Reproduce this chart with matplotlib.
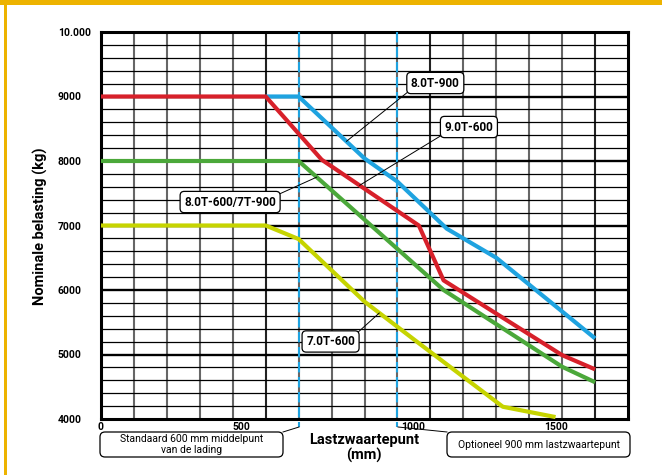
import numpy as np
import matplotlib
matplotlib.use("Agg")
import matplotlib.pyplot as plt
from matplotlib.patches import Rectangle, FancyBboxPatch
from matplotlib.lines import Line2D
from matplotlib.transforms import Affine2D, blended_transform_factory

plt.rcParams['font.family'] = ['Roboto', 'DejaVu Sans']

# ---- data ----
red_x = [0, 500, 670, 965, 1040, 1400, 1500]          # 9.0T-600
red_y = [9000, 9000, 8020, 7000, 6150, 4990, 4770]
blue_x = [500, 600, 800, 900, 1050, 1200, 1500]       # 8.0T-900
blue_y = [9000, 9000, 8040, 7680, 6950, 6500, 5250]
green_x = [0, 600, 1040, 1400, 1500]                   # 8.0T-600/7T-900
green_y = [8000, 8000, 6000, 4810, 4570]
yellow_x = [0, 500, 600, 800, 965, 1220, 1380]        # 7.0T-600
yellow_y = [7000, 7000, 6790, 5820, 5175, 4190, 4030]

ytick_vals = [4000, 5000, 6000, 7000, 8000, 9000, 10000]
ytick_labels = ["4000", "5000", "6000", "7000", "8000", "9000", "10.000"]
xtick_pos = [0, 426, 948, 1382]
xtick_labels = ["0", "500", "1000", "1500"]
ref_lines = [600, 900]

RED = '#D7202A'
BLUE = '#1FA3E0'
GREEN = '#4BA83A'
YELLOW = '#C6D400'
GOLD = '#EDB300'

W, H = 662, 475
fig = plt.figure(figsize=(W / 100, H / 100), dpi=100)
ax = fig.add_axes([101 / W, 1 - 419 / H, 527 / W, 387 / H])
ax.set_xlim(0, 1600)
ax.set_ylim(4000, 10000)

# grid
for gx in np.arange(100, 1600, 100):
    major = gx % 500 == 0
    ax.axvline(gx, color='#222222' if major else '#666666', lw=1.5 if major else 1.5, zorder=1)
for gy in np.arange(4200, 10000, 200):
    major = gy % 1000 == 0
    ax.axhline(gy, color='black', lw=1.7 if major else 0.9, zorder=1)

for s in ax.spines.values():
    s.set_linewidth(2.2)
    s.set_color('black')

# reference dashed lines
btrans = blended_transform_factory(ax.transData, ax.transAxes)
for rx in ref_lines:
    ax.plot([rx, rx], [1, -0.021], transform=btrans, color=BLUE, lw=1.5,
            linestyle=(0, (5, 2.2)), clip_on=False, zorder=3)

# curves
ax.plot(blue_x, blue_y, color=BLUE, lw=3.0, zorder=4, solid_capstyle='butt')
ax.plot(yellow_x, yellow_y, color=YELLOW, lw=3.0, zorder=4, solid_capstyle='butt')
ax.plot(green_x, green_y, color=GREEN, lw=3.0, zorder=5, solid_capstyle='butt')
ax.plot(red_x, red_y, color=RED, lw=3.0, zorder=6, solid_capstyle='butt')

# ticks
ax.set_yticks(ytick_vals)
ax.set_yticklabels(ytick_labels, fontsize=7.5, fontweight='bold')
for lab in ax.get_yticklabels():
    lab.set_ha('left')
ax.tick_params(axis='y', length=0, pad=31)
ax.set_xticks(xtick_pos)
ax.set_xticklabels(xtick_labels, fontsize=7.5, fontweight='bold')
ax.tick_params(axis='x', length=0, pad=2.2)

# curve labels
def label(text, xs, ys, px, bx, by, rel):
    py = np.interp(px, xs, ys)
    ax.annotate(text, xy=(px, py), xytext=(bx, by), textcoords='data',
                ha='center', va='center', fontsize=8.5, fontweight='bold', zorder=10,
                bbox=dict(boxstyle='round,pad=0.35,rounding_size=0.35', fc='white', ec='black', lw=0.9),
                arrowprops=dict(arrowstyle='-', color='black', lw=0.7, relpos=rel,
                                shrinkA=0, shrinkB=0))

label("8.0T-900", blue_x, blue_y, 745, 1015, 9209, (0, 0))
label("9.0T-600", red_x, red_y, 785, 1117, 8527, (0, 0))
label("8.0T-600/7T-900", green_x, green_y, 655, 392, 7364, (1, 1))
label("7.0T-600", yellow_x, yellow_y, 845, 697, 5202, (1, 1))

# bottom boxes in pixel coords (y from top)
pxt = Affine2D().scale(1 / W, -1 / H).translate(0, 1) + fig.transFigure

def pbox(x0, y0, x1, y1, text, lines_from):
    p = FancyBboxPatch((x0, y0), x1 - x0, y1 - y0,
                       boxstyle='round,pad=0,rounding_size=5',
                       fc='white', ec='black', lw=0.9, transform=pxt)
    fig.add_artist(p)
    fig.text((x0 + x1) / 2 / W, 1 - (y0 + y1) / 2 / H, text, ha='center', va='center',
             fontsize=7.5, linespacing=1.15)
    fig.add_artist(Line2D(*lines_from, color='black', lw=0.7, transform=pxt))

pbox(100, 432, 283, 457, "Standaard 600 mm middelpunt\nvan de lading", ([299, 283], [427, 432]))
pbox(447, 432, 630, 457, "Optioneel 900 mm lastzwaartepunt", ([398, 447], [427, 432]))

# axis titles
fig.text(40 / W, 1 - 226 / H, "Nominale belasting (kg)", rotation=90, ha='center', va='center',
         fontsize=10.5, fontweight='bold')
fig.text(364 / W, 1 - 448 / H, "Lastzwaartepunt\n(mm)", ha='center', va='center',
         fontsize=10.5, fontweight='bold', linespacing=1.0)

# yellow frame
fig.add_artist(Rectangle((0, 0), W, 5, color=GOLD, transform=pxt, lw=0))
fig.add_artist(Rectangle((4, 0), 3, H, color=GOLD, transform=pxt, lw=0))

fig.savefig("out.png", dpi=100)
